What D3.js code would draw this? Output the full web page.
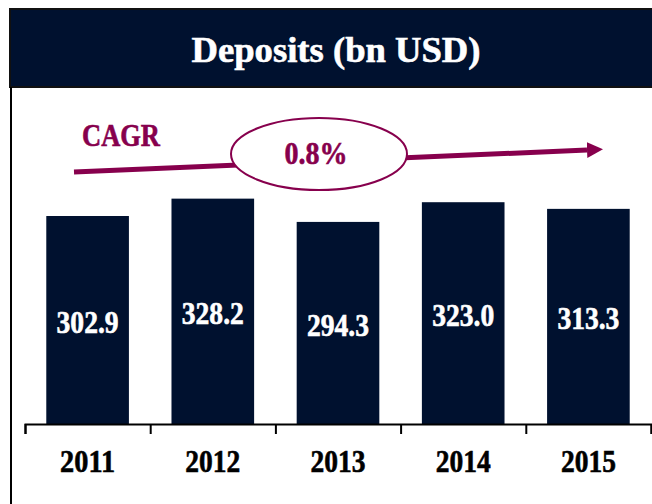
<!DOCTYPE html>
<html lang="en">
<head>
  <meta charset="UTF-8">
  <title>Deposits (bn USD)</title>
  <script src="https://d3js.org/d3.v7.min.js"></script>
  <style>
    body { margin: 0; background: #fff; }
    text { font-family: "Liberation Serif", "Times New Roman", serif; font-weight: bold; }
  </style>
</head>
<body>
  <div id="chart"></div>
  <script>
    const years = ["2011", "2012", "2013", "2014", "2015"];
    const deposits = [302.9, 328.2, 294.3, 323.0, 313.3];
    const cagrLabel = "CAGR";
    const cagrValue = "0.8%";

    const navy = "#00112f";
    const maroon = "#87004d";
    const W = 652, H = 504;

    const svg = d3.select("#chart").append("svg")
      .attr("width", W).attr("height", H);

    // header band
    svg.append("rect")
      .attr("x", 10).attr("y", 9)
      .attr("width", W).attr("height", 78)
      .attr("fill", navy)
      .attr("stroke", "#111").attr("stroke-width", 2);

    svg.append("text")
      .attr("x", 336).attr("y", 62)
      .attr("text-anchor", "middle")
      .attr("fill", "#fff")
      .attr("stroke", "#fff").attr("stroke-width", 0.6)
      .attr("font-size", 36)
      .attr("textLength", 289)
      .attr("lengthAdjust", "spacingAndGlyphs")
      .text("Deposits (bn USD)");

    // left frame line
    svg.append("line")
      .attr("x1", 11).attr("x2", 11)
      .attr("y1", 87).attr("y2", H)
      .attr("stroke", "#000").attr("stroke-width", 2);

    const x = d3.scaleBand()
      .domain(years)
      .range([25, 651])
      .paddingInner(0.34)
      .paddingOuter(0.17);

    const y = d3.scaleLinear()
      .domain([0, 450])
      .range([424, 115]);

    svg.selectAll(".bar")
      .data(deposits)
      .enter()
      .append("rect")
      .attr("class", "bar")
      .attr("x", (d, i) => x(years[i]))
      .attr("y", d => y(d))
      .attr("width", x.bandwidth())
      .attr("height", d => y(0) - y(d))
      .attr("fill", navy);

    svg.selectAll(".val")
      .data(deposits)
      .enter()
      .append("text")
      .attr("class", "val")
      .attr("x", (d, i) => x(years[i]) + x.bandwidth() / 2)
      .attr("y", d => (y(d) + y(0)) / 2 + 13)
      .attr("text-anchor", "middle")
      .attr("fill", "#fff")
      .attr("stroke", "#fff").attr("stroke-width", 0.6)
      .attr("font-size", 31)
      .attr("textLength", 62)
      .attr("lengthAdjust", "spacingAndGlyphs")
      .text(d => d.toFixed(1));

    // axis: boundary ticks + year labels
    const bounds = d3.scaleLinear().domain([0, years.length]).range(x.range());
    svg.append("g")
      .attr("transform", `translate(0,${y(0)})`)
      .call(d3.axisBottom(bounds).ticks(years.length).tickSize(10).tickFormat(""))
      .call(g => g.selectAll("path, line").attr("stroke", "#000").attr("stroke-width", 2));

    const xAxis = svg.append("g")
      .attr("transform", `translate(0,${y(0)})`)
      .call(d3.axisBottom(x).tickSize(0));
    xAxis.select(".domain").remove();
    xAxis.selectAll("text")
      .attr("y", 48).attr("dy", 0)
      .attr("fill", "#000")
      .attr("stroke", "#000").attr("stroke-width", 0.6)
      .attr("font-size", 32)
      .attr("textLength", 55)
      .attr("lengthAdjust", "spacingAndGlyphs");

    // CAGR arrow
    svg.append("defs").append("marker")
      .attr("id", "head")
      .attr("viewBox", "0 0 10 10")
      .attr("refX", 0).attr("refY", 5)
      .attr("markerUnits", "userSpaceOnUse")
      .attr("markerWidth", 16).attr("markerHeight", 18)
      .attr("orient", "auto")
      .append("path")
      .attr("d", "M0,0 L10,5 L0,10 Z")
      .attr("fill", maroon);

    svg.append("line")
      .attr("x1", 74).attr("y1", 172)
      .attr("x2", 587).attr("y2", 150)
      .attr("stroke", maroon).attr("stroke-width", 5)
      .attr("marker-end", "url(#head)");

    svg.append("text")
      .attr("x", 82).attr("y", 146)
      .attr("fill", maroon)
      .attr("stroke", maroon).attr("stroke-width", 0.6)
      .attr("font-size", 31)
      .attr("textLength", 78)
      .attr("lengthAdjust", "spacingAndGlyphs")
      .text(cagrLabel);

    svg.append("ellipse")
      .attr("cx", 319).attr("cy", 154)
      .attr("rx", 88).attr("ry", 36)
      .attr("fill", "#fff")
      .attr("stroke", maroon).attr("stroke-width", 2);

    svg.append("text")
      .attr("x", 316).attr("y", 164)
      .attr("text-anchor", "middle")
      .attr("fill", maroon)
      .attr("stroke", maroon).attr("stroke-width", 0.6)
      .attr("font-size", 31)
      .attr("textLength", 63)
      .attr("lengthAdjust", "spacingAndGlyphs")
      .text(cagrValue);
  </script>
</body>
</html>
